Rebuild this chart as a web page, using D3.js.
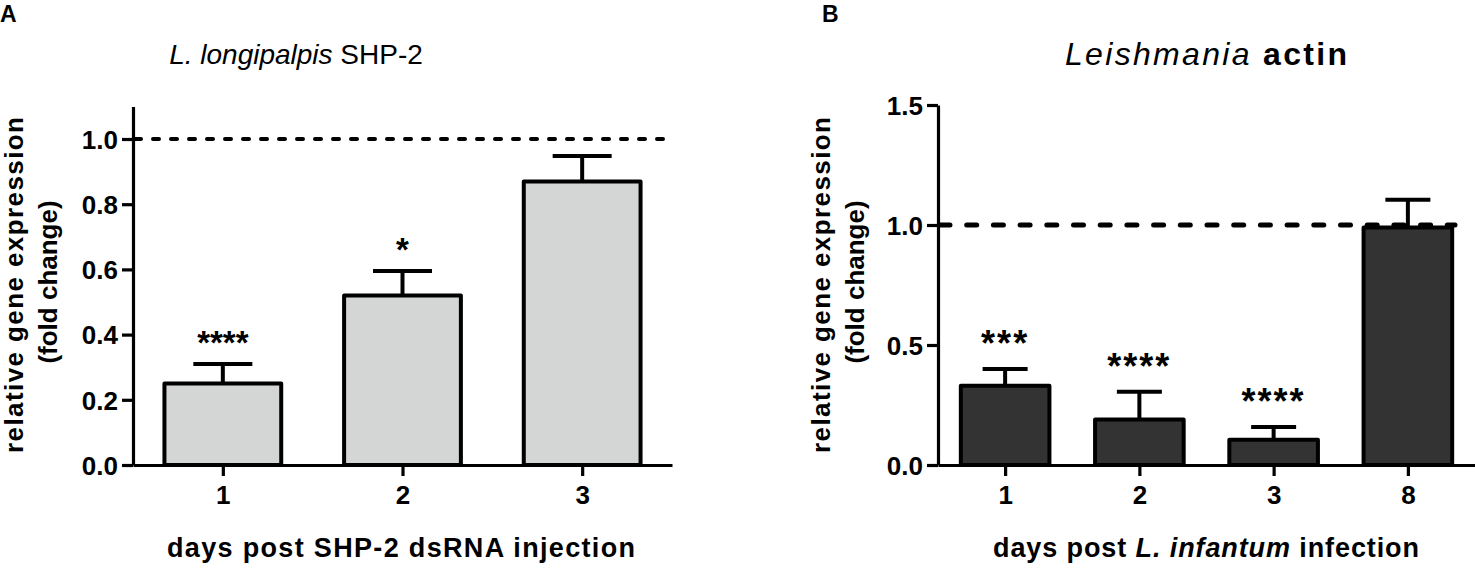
<!DOCTYPE html>
<html>
<head>
<meta charset="utf-8">
<script src="https://cdn.jsdelivr.net/npm/d3@7"></script>
<style>
  html, body { margin: 0; padding: 0; background: #fff; }
  svg { display: block; font-family: "Liberation Sans", Arial, sans-serif; }
</style>
</head>
<body>
<svg id="chart" width="1475" height="568"></svg>
<script>
// ---------- Data ----------
// Panel A: L. longipalpis SHP-2
const daysA = ["1", "2", "3"];
const meanA = [0.25, 0.52, 0.87];
const errA = [0.06, 0.075, 0.078];
const sigA = ["****", "*", ""];
const yTicksA = [0.0, 0.2, 0.4, 0.6, 0.8, 1.0];

// Panel B: Leishmania actin
const daysB = ["1", "2", "3", "8"];
const meanB = [0.33, 0.19, 0.105, 0.99];
const errB = [0.07, 0.115, 0.053, 0.115];
const sigB = ["***", "****", "****", ""];
const yTicksB = [0.0, 0.5, 1.0, 1.5];

const refLine = 1.0;

// ---------- Drawing ----------
const svg = d3.select("#chart");
const fmt = d3.format(".1f");

function panel(cfg) {
  const g = svg.append("g");
  const x = d3.scalePoint().domain(cfg.days).range([cfg.x0, cfg.x1]).padding(0.5);
  const y = d3.scaleLinear().domain(cfg.yDomain).range([465, cfg.yTop]);
  const bw = x.step() * cfg.barFrac;

  const data = cfg.days.map((d, i) => ({ d, m: cfg.mean[i], e: cfg.err[i], s: cfg.sig[i] }));

  // error bars (behind bars)
  const eb = g.append("g");
  eb.selectAll("line.v").data(data).join("line")
    .attr("x1", d => x(d.d)).attr("x2", d => x(d.d))
    .attr("y1", d => y(d.m)).attr("y2", d => y(d.m + d.e))
    .attr("stroke", "#000").attr("stroke-width", 4);
  eb.selectAll("line.c").data(data).join("line")
    .attr("x1", d => x(d.d) - cfg.capW / 2).attr("x2", d => x(d.d) + cfg.capW / 2)
    .attr("y1", d => y(d.m + d.e)).attr("y2", d => y(d.m + d.e))
    .attr("stroke", "#000").attr("stroke-width", 4);

  // bars
  g.append("g").selectAll("rect").data(data).join("rect")
    .attr("x", d => x(d.d) - bw / 2)
    .attr("width", bw)
    .attr("y", d => y(d.m))
    .attr("height", d => y(0) - y(d.m))
    .attr("fill", cfg.fill)
    .attr("stroke", "#000").attr("stroke-width", 4)
    .attr("stroke-linejoin", "round");

  // dashed reference line
  g.append("line")
    .attr("x1", cfg.x0 + 2).attr("x2", cfg.dashEnd)
    .attr("y1", y(refLine)).attr("y2", y(refLine))
    .attr("stroke", "#000").attr("stroke-width", cfg.dashW)
    .attr("stroke-linecap", "round")
    .attr("stroke-dasharray", cfg.dash);

  // significance asterisks
  g.append("g").selectAll("text").data(data).join("text")
    .attr("x", d => x(d.d))
    .attr("y", d => y(d.m + d.e) - cfg.sigGap)
    .attr("text-anchor", "middle")
    .attr("font-size", cfg.sigSize)
    .attr("font-weight", "bold")
    .attr("letter-spacing", cfg.sigSpacing)
    .text(d => d.s);

  // y axis
  const ya = g.append("g")
    .attr("transform", `translate(${cfg.x0},0)`)
    .call(d3.axisLeft(y).tickValues(cfg.yTicks).tickFormat(fmt).tickSize(11).tickSizeOuter(0).tickPadding(4));
  // x axis
  const xa = g.append("g")
    .attr("transform", `translate(0,465)`)
    .call(d3.axisBottom(x).tickSize(11).tickSizeOuter(0).tickPadding(6));
  [ya, xa].forEach(a => {
    a.select(".domain").attr("stroke", "#000").attr("stroke-width", 3.2);
    a.selectAll(".tick line").attr("stroke", "#000").attr("stroke-width", 3.2);
    a.selectAll(".tick text").attr("fill", "#000")
      .attr("font-family", "Liberation Sans, Arial, sans-serif")
      .attr("font-size", 26).attr("font-weight", "bold");
  });
  xa.selectAll(".tick text").attr("dy", null).attr("y", 39);
  ya.selectAll(".tick text").attr("dy", "0.36em");

  // y axis title (two lines)
  const yt = g.append("g").attr("font-size", 26).attr("font-weight", "bold");
  yt.append("text")
    .attr("transform", `translate(${cfg.yl1},285) rotate(-90)`)
    .attr("text-anchor", "middle")
    .attr("textLength", 336).attr("lengthAdjust", "spacing")
    .text("relative gene expression");
  yt.append("text")
    .attr("transform", `translate(${cfg.yl2},282) rotate(-90)`)
    .attr("text-anchor", "middle")
    .text("(fold change)");

  // panel letter
  g.append("text").attr("x", cfg.letterX).attr("y", 22)
    .attr("font-size", 23).attr("font-weight", "bold").text(cfg.letter);

  return { g, x, y };
}

// Panel A
const A = panel({
  days: daysA, mean: meanA, err: errA, sig: sigA, yTicks: yTicksA,
  x0: 133, x1: 672, yDomain: [0, 1.1], yTop: 106.4, barFrac: 0.65, capW: 59,
  fill: "#d4d6d5", dashEnd: 670, dashW: 4, dash: "6,12",
  sigGap: 10, sigSize: 33, sigSpacing: 0,
  yl1: 23, yl2: 57, letter: "A", letterX: 0
});
// Title A
const tA = A.g.append("text").attr("x", 296).attr("y", 64).attr("text-anchor", "middle")
  .attr("font-size", 28);
tA.append("tspan").attr("font-style", "italic").text("L. longipalpis");
tA.append("tspan").text(" SHP-2");
// X title A
A.g.append("text").attr("x", 401).attr("y", 557).attr("text-anchor", "middle")
  .attr("font-size", 27).attr("font-weight", "bold")
  .attr("textLength", 468).attr("lengthAdjust", "spacing")
  .text("days post SHP-2 dsRNA injection");

// Panel B
const B = panel({
  days: daysB, mean: meanB, err: errB, sig: sigB, yTicks: yTicksB,
  x0: 938, x1: 1475, yDomain: [0, 1.5], yTop: 105, barFrac: 0.66, capW: 45,
  fill: "#333333", dashEnd: 1455, dashW: 5, dash: "10,16.7",
  sigGap: 13, sigSize: 36, sigSpacing: 2,
  yl1: 830, yl2: 864, letter: "B", letterX: 822
});
const tB = B.g.append("text").attr("x", 1206).attr("y", 65).attr("text-anchor", "middle")
  .attr("font-size", 32).attr("textLength", 282).attr("lengthAdjust", "spacing");
tB.append("tspan").attr("font-style", "italic").text("Leishmania");
tB.append("tspan").attr("font-weight", "bold").text(" actin");
const xtB = B.g.append("text").attr("x", 1206).attr("y", 557).attr("text-anchor", "middle")
  .attr("font-size", 27).attr("font-weight", "bold")
  .attr("textLength", 426).attr("lengthAdjust", "spacing");
xtB.append("tspan").text("days post ");
xtB.append("tspan").attr("font-style", "italic").text("L. infantum");
xtB.append("tspan").text(" infection");
</script>
</body>
</html>
